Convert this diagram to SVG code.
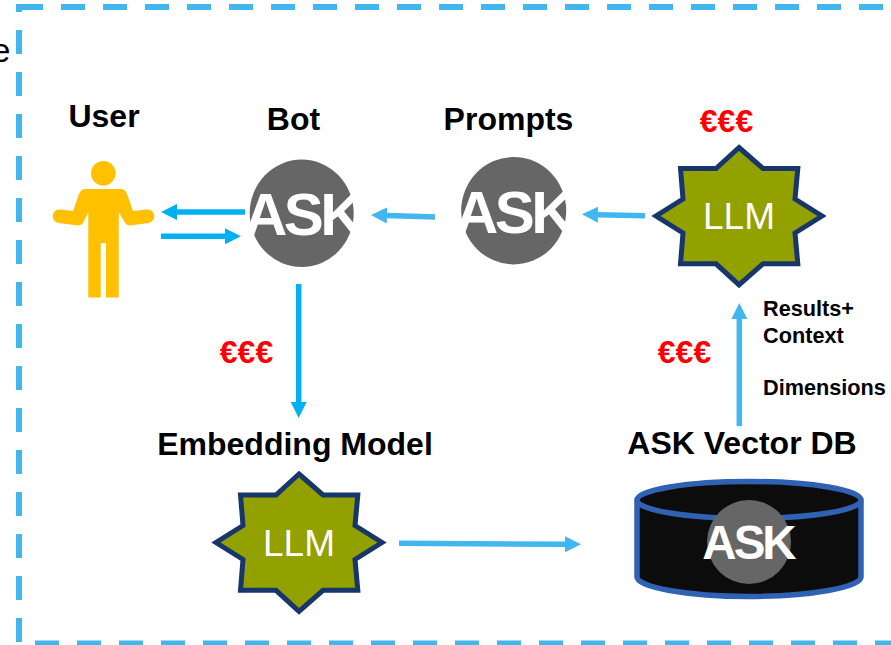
<svg xmlns="http://www.w3.org/2000/svg" xmlns:xlink="http://www.w3.org/1999/xlink" width="891" height="645" viewBox="0 0 891 645">
<style>
text{font-family:"Liberation Sans",Arial,sans-serif}
.b{fill:none;stroke:#41b6ef;stroke-width:6;stroke-dasharray:24 18}
.t{font-weight:700;font-size:32px;fill:#000;text-anchor:middle}
.s{font-weight:700;font-size:21.7px;fill:#000}
.e{font-weight:700;font-size:32px;fill:#f00;text-anchor:middle}
.l{font-size:37px;fill:#fff;text-anchor:middle}
.a{font-weight:700;fill:#fff;text-anchor:middle}
.c{fill:#666}
.star{fill:#92a000;stroke:#17366b;stroke-width:5;stroke-miterlimit:10}
.c1{fill:none;stroke:#00b0f0;stroke-width:5.5;marker-end:url(#h1)}
.c2{fill:none;stroke:#41b6ef;stroke-width:5.5;marker-end:url(#h2)}
</style>
<defs>
<marker id="h1" markerUnits="userSpaceOnUse" markerWidth="17" markerHeight="18" refX="0" refY="8" orient="auto"><path d="M0 0L16 8L0 16Z" fill="#00b0f0"/></marker>
<marker id="h2" markerUnits="userSpaceOnUse" markerWidth="17" markerHeight="18" refX="0" refY="8" orient="auto"><path d="M0 0L16 8L0 16Z" fill="#41b6ef"/></marker>
<polygon id="st" points="739,147.500 763,168.500 797.800,168.500 795,199 822,216 795,233 797.800,263.800 763,263.800 739,284.800 716,263.800 680.500,263.800 683,233 656,216 683,199 680.500,168.500 716,168.500"/>
</defs>
<rect width="891" height="645" fill="#fff"/>
<g id="frame">
<text x="10.500" y="61.500" font-size="34" text-anchor="end" fill="#000">e</text>
<line class="b" x1="19" y1="7" x2="891" y2="7"/>
<line class="b" x1="19" y1="4" x2="19" y2="645" stroke-dashoffset="16"/>
<line class="b" x1="35" y1="643.500" x2="891" y2="643.500"/>
</g>
<g id="connectors">
<line class="c1" x1="245" y1="212" x2="177" y2="212"/>
<line class="c1" x1="161" y1="236.300" x2="225" y2="236.300"/>
<line class="c2" x1="435" y1="217" x2="387" y2="215.500"/>
<line class="c2" x1="645" y1="215.700" x2="598" y2="214.700"/>
<line class="c1" x1="298.700" y1="284" x2="298.700" y2="402"/>
<line class="c2" x1="739.300" y1="426" x2="739.300" y2="319"/>
<line class="c2" x1="399" y1="543.300" x2="565" y2="544.200"/>
</g>
<g id="user">
<text class="t" x="104" y="127">User</text>
<circle cx="103.300" cy="173.300" r="12.300" fill="#ffc000"/>
<path fill="#ffc000" d="M86 189H121Q125 189 127 194L133 211L146.500 209.500A6.800 6.800 0 0 1 148.500 223L130 225.500Q126 225.500 124 221L118.700 212V297.500H106V243H100.700V297.500H88.300V212L84 221Q82 225.500 78 225.500L58.500 223A6.800 6.800 0 0 1 60.500 209.500L73 211L79 194Q81 189 86 189Z"/>
</g>
<g id="bot">
<text class="t" x="293.500" y="130">Bot</text>
<ellipse class="c" cx="301.700" cy="213.300" rx="52" ry="53.700"/>
<text class="a" x="302" y="235" font-size="60" letter-spacing="-3.500">ASK</text>
</g>
<g id="prompts">
<text class="t" x="508.500" y="130">Prompts</text>
<ellipse class="c" cx="513.700" cy="210.700" rx="52.500" ry="53.700"/>
<text class="a" x="513" y="232.700" font-size="60" letter-spacing="-3.500">ASK</text>
</g>
<g id="llm-top">
<text class="e" x="726.500" y="132">€€€</text>
<use xlink:href="#st" class="star"/>
<text class="l" x="739" y="229">LLM</text>
</g>
<g id="cost-embed"><text class="e" x="246.500" y="363">€€€</text></g>
<g id="cost-results">
<text class="e" x="684.500" y="363">€€€</text>
<text class="s" x="763" y="316">Results+</text>
<text class="s" x="763" y="343">Context</text>
<text class="s" x="763" y="395">Dimensions</text>
</g>
<g id="embedding-model">
<text class="t" x="295" y="455">Embedding Model</text>
<use xlink:href="#st" class="star" transform="translate(-440 326.500)"/>
<text class="l" x="299" y="555.500">LLM</text>
</g>
<g id="vector-db">
<text class="t" x="742" y="454">ASK Vector DB</text>
<path d="M637 500V577C637 587 687 596.500 749 596.500S861 587 861 577V500" fill="#0c0c0c" stroke="#2f62b3" stroke-width="5.500"/>
<ellipse cx="749" cy="500" rx="112" ry="18.500" fill="#0c0c0c" stroke="#2f62b3" stroke-width="5.500"/>
<circle class="c" cx="749" cy="542" r="42"/>
<text class="a" x="748" y="559" font-size="47.500" letter-spacing="-3">ASK</text>
</g>
</svg>
